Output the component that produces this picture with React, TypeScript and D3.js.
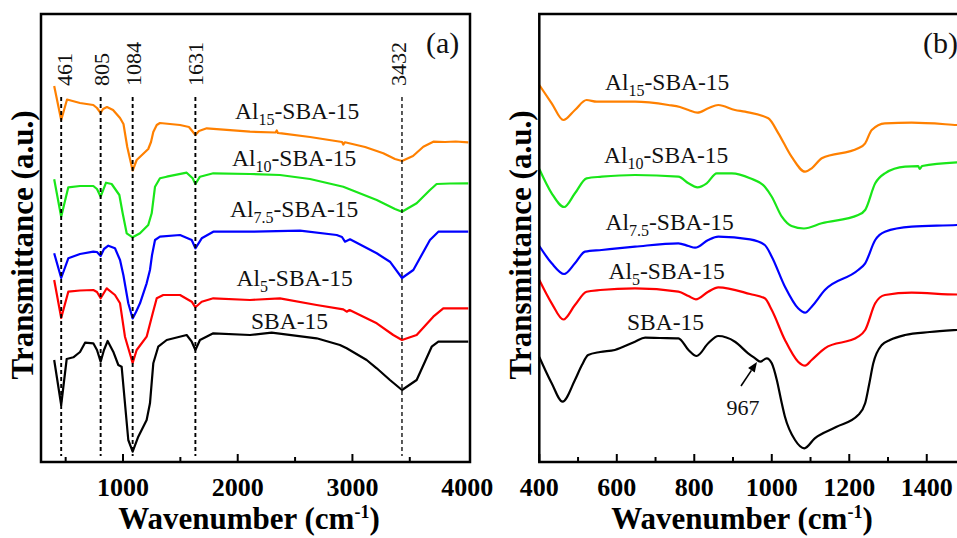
import React from "react";
import * as d3 from "d3";

type Pt = [number, number];

// ---- Panel (a): full-range FTIR spectra, [wavenumber (cm-1), transmittance (a.u., offset)] ----
const fullAl15: Pt[] = [
  [400, 376], [461, 342], [512, 362.5], [625, 359], [741, 357], [773, 354], [805, 349], [826, 353],
  [860, 355], [913, 352], [974, 344], [1004, 338], [1037, 315], [1084, 291.5], [1119, 302], [1165, 307],
  [1220, 313], [1244, 320], [1264, 330], [1294, 337], [1322, 339], [1497, 337], [1575, 335], [1631, 327],
  [1662, 331], [1730, 333.7], [2107, 330.3], [2330, 329.5], [2340, 331.5], [2350, 329], [2383, 328.7],
  [2630, 325], [2910, 320], [2920, 317.5], [2935, 319.7], [3110, 315], [3269, 308.7], [3371, 303],
  [3432, 301], [3528, 306], [3618, 315.3], [3705, 320.3], [3807, 320], [3900, 320.5], [4010, 319.7],
];
const fullAl10: Pt[] = [
  [400, 282.7], [461, 245.3], [523, 274.7], [625, 276], [741, 276], [773, 273], [805, 265.3], [852, 279.3],
  [901, 278], [968, 267], [997, 248.7], [1032, 228.7], [1084, 224.7], [1148, 228.7], [1220, 237],
  [1250, 248.7], [1279, 275.3], [1322, 283.7], [1381, 285.3], [1555, 289.3], [1607, 283.7], [1631, 278],
  [1671, 285.3], [1787, 288.7], [2107, 288], [2368, 287], [2630, 283], [2920, 275.3], [3212, 262],
  [3371, 253], [3432, 250.3], [3560, 258.7], [3676, 272], [3734, 278], [3850, 278.5], [4010, 278.7],
];
const fullAl75: Pt[] = [
  [400, 208.7], [461, 184], [523, 203.7], [625, 208], [741, 210.3], [773, 210], [805, 206], [834, 213],
  [872, 216.3], [930, 213.7], [974, 202], [1003, 187], [1046, 158.7], [1084, 143.5], [1113, 150],
  [1148, 158.7], [1206, 178.7], [1235, 192], [1253, 207], [1279, 222], [1322, 225.3], [1497, 227],
  [1599, 222], [1631, 213.7], [1686, 223.7], [1787, 230.3], [2107, 230.3], [2543, 231.3], [2863, 227],
  [2909, 225], [2935, 220.3], [2979, 222.7], [3212, 208.7], [3327, 200.3], [3432, 184], [3531, 192],
  [3676, 222], [3749, 230.3], [4010, 230.3],
];
const fullAl5: Pt[] = [
  [400, 182], [461, 144], [523, 170.3], [625, 171.5], [741, 172], [773, 170], [805, 163.7], [858, 173.7],
  [930, 167], [974, 158.7], [1017, 125.3], [1084, 99], [1119, 112], [1206, 125.3], [1259, 148.7],
  [1294, 163.7], [1351, 167], [1497, 167], [1599, 160.3], [1631, 154.7], [1686, 160.3], [1787, 163.7],
  [2107, 162], [2368, 163.7], [2688, 157], [2920, 152.7], [2950, 150.3], [2975, 152], [3212, 138.7],
  [3356, 127], [3432, 122], [3560, 127], [3705, 145.3], [3792, 153.7], [4010, 153.7],
];
const fullSBA15: Pt[] = [
  [400, 102], [461, 57], [509, 103], [567, 104.7], [625, 110], [669, 119.3], [741, 118.7], [773, 112],
  [805, 100.3], [834, 112], [866, 121], [915, 110.3], [959, 97], [988, 95.3], [1017, 58.7], [1046, 22],
  [1084, 10.3], [1133, 25.3], [1206, 42], [1235, 58.7], [1264, 98.7], [1307, 115.3], [1381, 122],
  [1555, 127], [1599, 120.3], [1631, 112], [1671, 122], [1787, 128.7], [2107, 127], [2296, 129.3],
  [2688, 123.7], [2891, 117], [2950, 113.7], [3124, 102], [3212, 93.7], [3327, 82], [3432, 72],
  [3560, 82], [3691, 115.3], [3749, 120.3], [4010, 120.3],
];

// ---- Panel (b): 400-1500 cm-1 region ----
const zoomAl15: Pt[] = [
  [400, 377], [432, 358.7], [462, 342], [492, 352], [522, 362], [548, 360.3], [647, 360.3], [733, 357],
  [763, 355], [785, 352], [808, 349.3], [836, 353.7], [862, 357], [905, 352], [931, 350.3], [991, 343.7],
  [1017, 328.7], [1051, 305.3], [1086, 290.3], [1103, 293.7], [1129, 303.7], [1223, 313.7], [1241, 318.7],
  [1258, 332], [1292, 338.7], [1361, 339.3], [1478, 337], [1499, 336.5],
];
const zoomAl10: Pt[] = [
  [400, 293], [432, 268.7], [464, 255], [492, 268.7], [522, 283.7], [561, 285.3], [647, 287], [759, 285.3],
  [785, 278.7], [808, 274.7], [832, 278.7], [858, 288.7], [897, 288.7], [944, 283.7], [982, 275.3],
  [1000, 265.3], [1026, 245.3], [1051, 236], [1083, 233.5], [1129, 238.7], [1223, 247], [1241, 252],
  [1267, 278.7], [1292, 288.7], [1344, 295.3], [1378, 295.8], [1382, 293], [1388, 296], [1478, 299.7],
  [1499, 300],
];
const zoomAl75: Pt[] = [
  [400, 216], [432, 198.7], [464, 188], [492, 198.7], [518, 210.3], [561, 212], [647, 215.3], [759, 218.7],
  [785, 216], [802, 214.3], [836, 222], [862, 225.3], [944, 222.7], [982, 217], [1000, 205.3],
  [1034, 175.3], [1068, 153.7], [1086, 149.3], [1103, 155.3], [1137, 172], [1223, 192], [1241, 198.7],
  [1267, 222], [1292, 230.3], [1361, 235.3], [1478, 237], [1499, 237.5],
];
const zoomAl5: Pt[] = [
  [400, 182], [432, 158.7], [462, 142.5], [492, 157], [522, 170.3], [557, 172], [647, 173.7], [759, 170.3],
  [785, 166], [804, 162.7], [836, 170.3], [862, 174.7], [944, 168], [982, 163.7], [1000, 152],
  [1034, 122], [1068, 100.3], [1086, 96.3], [1103, 102], [1137, 113.7], [1223, 125.3], [1241, 132],
  [1267, 158.7], [1292, 167], [1361, 169.3], [1478, 167.5], [1499, 167.5],
];
const zoomSBA15: Pt[] = [
  [400, 105], [432, 78.7], [460, 60.3], [492, 82], [510, 97], [526, 107], [557, 110], [595, 112],
  [647, 120.3], [673, 124.3], [711, 124], [759, 123.7], [785, 112], [806, 106], [836, 118.7], [862, 126],
  [905, 120.3], [939, 108.7], [957, 103.7], [970, 100.3], [987, 103.7], [1000, 98.7], [1013, 82],
  [1024, 62], [1034, 45.3], [1060, 22], [1084, 13.7], [1111, 23.7], [1166, 35], [1223, 47], [1241, 58.7],
  [1251, 77], [1262, 98.7], [1284, 117], [1305, 122], [1344, 127], [1408, 130], [1478, 132], [1499, 132.5],
];

// Assigned band positions (cm-1)
const peakBands = [461, 805, 1084, 1631, 3432];
const peakLabelShift = [4, 1, 1, 0, -3];

// Sample names: prefix, subscript, suffix
const sampleNames: [string, string, string][] = [
  ["Al", "15", "-SBA-15"],
  ["Al", "10", "-SBA-15"],
  ["Al", "7.5", "-SBA-15"],
  ["Al", "5", "-SBA-15"],
  ["", "", "SBA-15"],
];
const sampleColors = ["#ff8000", "#19e619", "#0000ff", "#ff0000", "#000000"];

const fullSeries = [fullAl15, fullAl10, fullAl75, fullAl5, fullSBA15];
const zoomSeries = [zoomAl15, zoomAl10, zoomAl75, zoomAl5, zoomSBA15];

const fullMajorTicks = [1000, 2000, 3000, 4000];
const fullMinorTicks = [500, 1500, 2500, 3500];
const zoomMajorTicks = [400, 600, 800, 1000, 1200, 1400];
const zoomMinorTicks = [500, 700, 900, 1100, 1300, 1500];

// Label anchor positions (px) for sample names in each panel
const fullLabelPos: [number, number][] = [[235, 118.5], [232, 166], [230, 217], [236.5, 285.5], [251, 328.5]];
const zoomLabelPos: [number, number][] = [[605, 90], [604, 162.5], [605.5, 229.5], [608.5, 278.5], [627, 330]];

const FONT = "'Liberation Serif', 'Times New Roman', Times, serif";

const TOP = 14;
const BOTTOM = 462;

const xFull = d3.scaleLinear().domain([285, 4025]).range([41, 470]);
const xZoom = d3.scaleLinear().domain([400, 1500]).range([539.3, 965.5]);
const yT = d3.scaleLinear().domain([0, 448]).range([BOTTOM, TOP]);

function SampleLabel({ name, pos }: { name: [string, string, string]; pos: [number, number] }) {
  const [pre, sub, post] = name;
  return (
    <text x={pos[0]} y={pos[1]} fontFamily={FONT} fontSize={23.5} fill="#111">
      {pre}
      {sub && (
        <tspan fontSize={16} dy={6}>
          {sub}
        </tspan>
      )}
      <tspan dy={sub ? -6 : 0}>{post}</tspan>
    </text>
  );
}

function Axes({
  x,
  majors,
  minors,
  left,
  right,
  labelX,
}: {
  x: d3.ScaleLinear<number, number>;
  majors: number[];
  minors: number[];
  left: number;
  right: number;
  labelX: number;
}) {
  return (
    <g>
      <rect x={left} y={TOP} width={right - left} height={BOTTOM - TOP} fill="none" stroke="#000" strokeWidth={2.5} />
      {majors.map((t) => (
        <line key={"M" + t} x1={x(t)} x2={x(t)} y1={BOTTOM} y2={BOTTOM - 8} stroke="#000" strokeWidth={2} />
      ))}
      {minors.map((t) => (
        <line key={"m" + t} x1={x(t)} x2={x(t)} y1={BOTTOM} y2={BOTTOM - 5} stroke="#000" strokeWidth={2} />
      ))}
      {majors.map((t) => (
        <text
          key={"L" + t}
          x={x(t)}
          y={496}
          textAnchor="middle"
          fontFamily={FONT}
          fontWeight="bold"
          fontSize={26}
          fill="#000"
        >
          {t}
        </text>
      ))}
      <text x={labelX} y={529} textAnchor="middle" fontFamily={FONT} fontWeight="bold" fontSize={31} fill="#000">
        Wavenumber (cm
        <tspan fontSize={18} dy={-11}>
          -1
        </tspan>
        <tspan dy={11}>)</tspan>
      </text>
      <text
        transform={`translate(${left - 8.5},245) rotate(-90)`}
        textAnchor="middle"
        fontFamily={FONT}
        fontWeight="bold"
        fontSize={31}
        fill="#000"
      >
        Transmittance (a.u.)
      </text>
    </g>
  );
}

export default function App() {
  const lineFull = d3
    .line<Pt>()
    .x((d) => xFull(d[0]))
    .y((d) => yT(d[1]))
    .curve(d3.curveLinear);
  const lineZoom = d3
    .line<Pt>()
    .x((d) => xZoom(d[0]))
    .y((d) => yT(d[1]))
    .curve(d3.curveMonotoneX);

  const arrowTip: Pt = [967, 101];
  const tipX = xZoom(arrowTip[0]) - 2;
  const tipY = yT(arrowTip[1]) + 1;
  const tailX = 741;
  const tailY = 386;
  const ang = Math.atan2(tipY - tailY, tipX - tailX);
  const ah = 10;
  const aw = 4;
  const bx = tipX - ah * Math.cos(ang);
  const by = tipY - ah * Math.sin(ang);
  const arrowHead = `M${tipX},${tipY} L${bx + aw * Math.sin(ang)},${by - aw * Math.cos(ang)} L${
    bx - aw * Math.sin(ang)
  },${by + aw * Math.cos(ang)} Z`;

  return (
    <svg
      width={957}
      height={538}
      style={{ position: "absolute", left: 0, top: 0, background: "#fff" }}
      xmlns="http://www.w3.org/2000/svg"
    >
      <rect x={0} y={0} width={957} height={538} fill="#fff" />

      {/* Panel (a) */}
      <g>
        {fullSeries.map((s, i) => (
          <path key={i} d={lineFull(s) || ""} fill="none" stroke={sampleColors[i]} strokeWidth={2.2} strokeLinejoin="round" />
        ))}
        {peakBands.map((p, i) => (
          <line
            key={p}
            x1={xFull(p)}
            x2={xFull(p)}
            y1={97}
            y2={456}
            stroke="#000"
            strokeWidth={p === 3432 ? 1.3 : 1.9}
            strokeDasharray="4,3"
          />
        ))}
        {peakBands.map((p, i) => (
          <text
            key={"t" + p}
            transform={`translate(${xFull(p) + peakLabelShift[i]},86) rotate(-90)`}
            dy="0.33em"
            fontFamily={FONT}
            fontSize={22}
            fill="#111"
          >
            {p}
          </text>
        ))}
        {sampleNames.map((n, i) => (
          <SampleLabel key={i} name={n} pos={fullLabelPos[i]} />
        ))}
        <text x={426} y={53} fontFamily={FONT} fontSize={30} fill="#111">
          (a)
        </text>
        <Axes x={xFull} majors={fullMajorTicks.filter((t) => t < 4000)} minors={fullMinorTicks} left={41} right={470} labelX={249} />
        <text x={xFull(4000)} y={496} textAnchor="middle" fontFamily={FONT} fontWeight="bold" fontSize={26}>
          4000
        </text>
      </g>

      {/* Panel (b) */}
      <g>
        {zoomSeries.map((s, i) => (
          <path key={i} d={lineZoom(s) || ""} fill="none" stroke={sampleColors[i]} strokeWidth={2.2} strokeLinejoin="round" />
        ))}
        {sampleNames.map((n, i) => (
          <SampleLabel key={i} name={n} pos={zoomLabelPos[i]} />
        ))}
        <line x1={tailX} y1={tailY} x2={bx} y2={by} stroke="#000" strokeWidth={1.6} />
        <path d={arrowHead} fill="#000" />
        <text x={743} y={415} textAnchor="middle" fontFamily={FONT} fontSize={22} fill="#111">
          967
        </text>
        <text x={923} y={53} fontFamily={FONT} fontSize={30} fill="#111">
          (b)
        </text>
        <Axes x={xZoom} majors={zoomMajorTicks} minors={zoomMinorTicks} left={539.3} right={965.5} labelX={742} />
      </g>
    </svg>
  );
}
